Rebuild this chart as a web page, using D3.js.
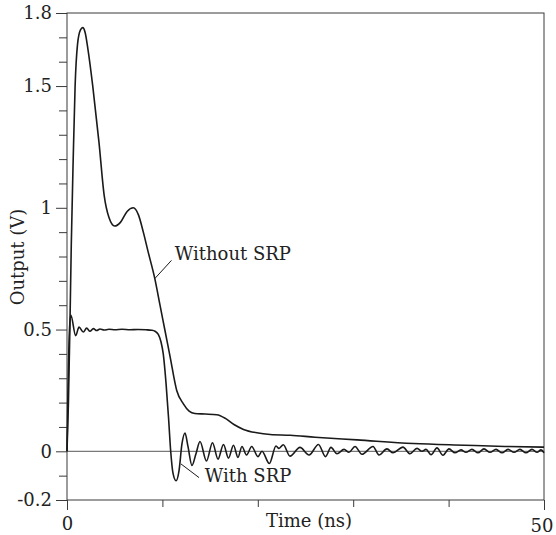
<!DOCTYPE html>
<html lang="en">
<head>
    <meta charset="UTF-8">
    <script src="https://d3js.org/d3.v7.min.js"></script>
    <title>SRP output</title>
    <style>
        body { margin: 0; background: #fff; }
        svg text { font-family: "DejaVu Serif", "Liberation Serif", serif; }
    </style>
</head>
<body>
    <div id="chart"></div>
    <script>
        // Time (ns) / output (V)
        const timeWithout = [0, 0.15, 0.3, 0.45, 0.65, 0.85, 1.1, 1.4, 1.65, 1.9, 2.2, 2.7, 3.35, 3.9, 4.4, 5.0, 5.6, 6.3, 6.95, 7.5,
            8.0, 8.5, 9.2, 9.75, 10.3, 10.8, 11.5, 12.2, 12.8, 13.4, 14.5, 15.7, 16.6, 17.5, 18.5, 19.9, 21.3, 23.4, 26, 30.4,
            36.3, 41.7, 45.9, 50];
        const outWithout = [0, 0.2, 0.5, 0.85, 1.2, 1.5, 1.67, 1.73, 1.74, 1.72, 1.65, 1.5, 1.27, 1.05, 0.96, 0.925, 0.94, 0.985, 1.0, 0.97,
            0.9, 0.82, 0.71, 0.6, 0.49, 0.39, 0.25, 0.195, 0.165, 0.155, 0.153, 0.15, 0.135, 0.11, 0.09, 0.076, 0.069, 0.066, 0.058, 0.047,
            0.032, 0.025, 0.02, 0.017];

        const timeWith = [0, 0.08, 0.26, 0.40, 0.91, 1.26, 1.71, 2.06, 2.41, 2.76, 3.11, 3.46, 3.88, 4.40, 5.03, 5.77, 6.60, 7.44, 8.28, 8.88,
            9.22, 9.57, 9.85, 10.09, 10.38, 10.64, 10.87, 11.11, 11.43, 11.74, 12.05, 12.37, 12.68, 13.10, 13.52, 13.94, 14.62, 15.25, 15.83, 16.40,
            16.93, 17.45, 17.92, 18.34, 18.82, 19.36, 20.02, 20.44, 21.21, 21.91, 22.22, 22.67, 23.38, 24.42, 25.37, 26.36, 27.10, 27.67, 28.30, 29.04,
            29.56, 30.19, 30.92, 32.08, 32.70, 33.54, 34.17, 35.22, 35.95, 36.69, 37.21, 37.63, 38.16, 38.78, 39.41, 40.04, 40.67, 41.30, 41.82, 42.45,
            43.08, 43.71, 44.34, 44.97, 45.60, 46.23, 46.86, 47.48, 48.11, 48.74, 49.27, 49.69, 50];
        const outWith = [0, 0.2, 0.5, 0.56, 0.475, 0.51, 0.49, 0.506, 0.493, 0.504, 0.496, 0.502, 0.498, 0.501, 0.499, 0.501, 0.499, 0.5, 0.499, 0.497,
            0.493, 0.48, 0.45, 0.4, 0.28, 0.14, 0.0, -0.09, -0.121, -0.08, 0.03, 0.075, 0.02, -0.058, -0.01, 0.04, -0.04, 0.035, -0.032, 0.028,
            -0.028, 0.025, -0.025, 0.02, -0.015, 0.02, -0.022, 0.0, -0.05, 0.022, 0.012, 0.027, -0.02, 0.016, -0.015, 0.028, -0.022, 0.016, -0.01, 0.008,
            -0.004, 0.02, -0.012, 0.02, -0.015, 0.01, -0.006, 0.017, -0.01, 0.012, 0.0, 0.008, -0.014, 0.014, -0.016, 0.01, -0.006, 0.006, -0.004, 0.008,
            -0.006, 0.01, -0.004, 0.008, -0.006, 0.008, -0.004, 0.008, -0.006, 0.008, -0.004, 0.006, -0.006];

        const yMajorTicks = [-0.2, 0, 0.5, 1, 1.5, 1.8];
        const yTickLabels = ["-0.2", "0", "0.5", "1", "1.5", "1.8"];
        const yMinorTicks = [-0.1, 0.1, 0.2, 0.3, 0.4, 0.6, 0.7, 0.8, 0.9, 1.1, 1.2, 1.3, 1.4, 1.6, 1.7];
        const xMajorTicks = [0, 50];
        const xTickLabels = ["0", "50"];
        const xMinorTicks = [10, 20, 30, 40];
        const seriesNames = ["Without SRP", "With SRP"];

        const width = 556, height = 535;
        const marginTop = 13, marginRight = 12, marginBottom = 35, marginLeft = 67;
        const ink = "#1a1a1a", frame = "#3a3a3a";
        const fontSize = 18;

        const x = d3.scaleLinear([0, 50], [marginLeft, width - marginRight]);
        const y = d3.scaleLinear([-0.2, 1.8], [height - marginBottom, marginTop]);

        const svg = d3.create("svg")
            .attr("width", width)
            .attr("height", height)
            .attr("viewBox", [0, 0, width, height]);

        // minor ticks
        svg.append("g")
            .attr("transform", `translate(${marginLeft},0)`)
            .call(d3.axisLeft(y).tickValues(yMinorTicks).tickSize(8).tickFormat(""))
            .call(g => g.select(".domain").remove())
            .call(g => g.selectAll(".tick line").attr("stroke", frame));
        svg.append("g")
            .attr("transform", `translate(0,${height - marginBottom})`)
            .call(d3.axisBottom(x).tickValues(xMinorTicks).tickSize(7).tickFormat(""))
            .call(g => g.select(".domain").remove())
            .call(g => g.selectAll(".tick line").attr("stroke", frame));

        // major ticks with labels
        svg.append("g")
            .attr("transform", `translate(${marginLeft},0)`)
            .call(d3.axisLeft(y).tickValues(yMajorTicks).tickSize(11).tickPadding(4)
                .tickFormat((d, i) => yTickLabels[i]))
            .call(g => g.select(".domain").remove())
            .call(g => g.selectAll(".tick line").attr("stroke", frame))
            .call(g => g.selectAll("text")
                .attr("font-size", fontSize)
                .attr("fill", "#222"));

        svg.append("g")
            .attr("transform", `translate(0,${height - marginBottom})`)
            .call(d3.axisBottom(x).tickValues(xMajorTicks).tickSize(10).tickPadding(7)
                .tickFormat((d, i) => xTickLabels[i]))
            .call(g => g.select(".domain").remove())
            .call(g => g.selectAll(".tick line").attr("stroke", frame))
            .call(g => g.selectAll("text")
                .attr("font-size", fontSize)
                .attr("fill", "#222"))
            .call(g => g.selectAll(".tick").filter(d => d === 50).select("text")
                .attr("text-anchor", "end").attr("dx", 9).attr("y", 19));

        // frame
        svg.append("rect")
            .attr("x", marginLeft)
            .attr("y", marginTop)
            .attr("width", width - marginLeft - marginRight)
            .attr("height", height - marginTop - marginBottom)
            .attr("fill", "none")
            .attr("stroke", frame)
            .attr("stroke-width", 1);

        // zero line
        svg.append("line")
            .attr("x1", x(0)).attr("x2", x(50))
            .attr("y1", y(0)).attr("y2", y(0))
            .attr("stroke", "#444")
            .attr("stroke-width", 0.9);

        const line = d3.line()
            .x(d => x(d[0]))
            .y(d => y(d[1]))
            .curve(d3.curveMonotoneX);

        svg.append("path")
            .datum(d3.zip(timeWithout, outWithout))
            .attr("fill", "none")
            .attr("stroke", ink)
            .attr("stroke-width", 1.6)
            .attr("d", line);

        svg.append("path")
            .datum(d3.zip(timeWith, outWith))
            .attr("fill", "none")
            .attr("stroke", ink)
            .attr("stroke-width", 1.6)
            .attr("d", line);

        // series labels with leader lines
        svg.append("line")
            .attr("x1", x(9.22)).attr("y1", y(0.71))
            .attr("x2", x(10.95)).attr("y2", y(0.784))
            .attr("stroke", ink).attr("stroke-width", 1);
        svg.append("text")
            .attr("x", x(11.3)).attr("y", y(0.786))
            .attr("font-size", fontSize)
            .attr("fill", "#222")
            .text(seriesNames[0]);

        svg.append("line")
            .attr("x1", x(11.95)).attr("y1", y(-0.052))
            .attr("x2", x(13.84)).attr("y2", y(-0.108))
            .attr("stroke", ink).attr("stroke-width", 1);
        svg.append("text")
            .attr("x", x(14.45)).attr("y", y(-0.128))
            .attr("font-size", fontSize)
            .attr("fill", "#222")
            .text(seriesNames[1]);

        // axis titles
        svg.append("text")
            .attr("x", 309)
            .attr("y", 526.5)
            .attr("text-anchor", "middle")
            .attr("font-size", fontSize)
            .attr("fill", "#222")
            .text("Time (ns)");

        svg.append("text")
            .attr("transform", "translate(23.5,257) rotate(-90)")
            .attr("text-anchor", "middle")
            .attr("font-size", fontSize)
            .attr("fill", "#222")
            .text("Output (V)");

        d3.select("#chart").node().appendChild(svg.node());
    </script>
</body>
</html>
